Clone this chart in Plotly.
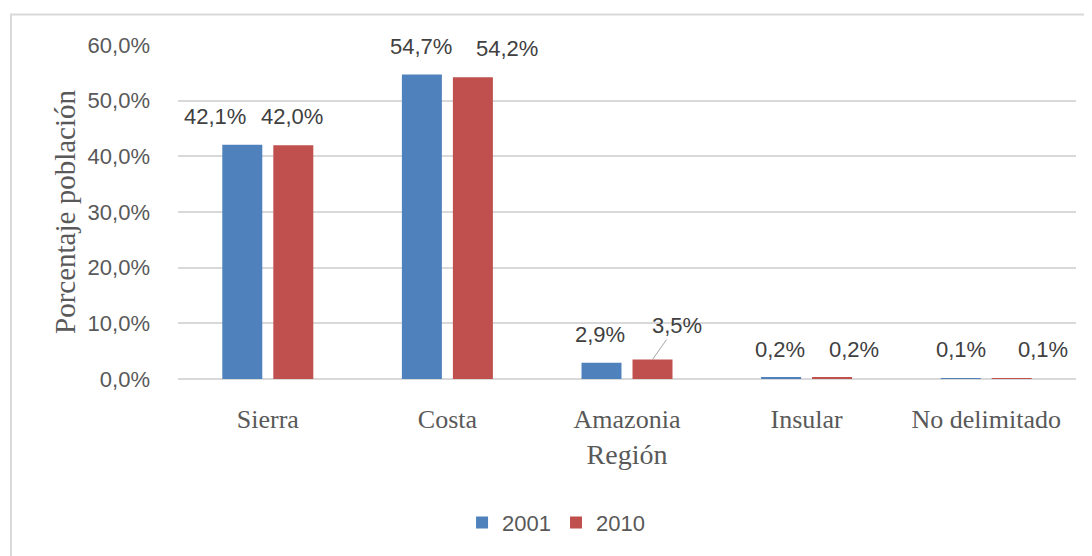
import plotly.graph_objects as go

# ---- data ----
categories = ["Sierra", "Costa", "Amazonia", "Insular", "No delimitado"]
series_names = ["2001", "2010"]
values_2001 = [42.1, 54.7, 2.9, 0.2, 0.1]
values_2010 = [42.0, 54.2, 3.5, 0.2, 0.1]
y_tickvals = [0, 10, 20, 30, 40, 50, 60]
y_ticktext = ["0,0%", "10,0%", "20,0%", "30,0%", "40,0%", "50,0%", "60,0%"]
y_title = "Porcentaje población"
x_title = "Región"

# ---- style ----
colors = ["#4f81bd", "#c0504d"]
grid_color = "#d9d9d9"
tick_color = "#595959"
label_color = "#404040"
sans = "Liberation Sans"
serif = "Liberation Serif"

# label nudges (pixels) relative to bar centre, per series
bar_offset_px = [-25.5, 25.5]
label_dx = [[-27, -1, -2, -1, 0], [-1, 34, 0, 22, 31]]
label_dy = 14


def fmt(v):
    return f"{v:.1f}".replace(".", ",") + "%"


fig = go.Figure()
for name, vals, col in zip(series_names, [values_2001, values_2010], colors):
    fig.add_trace(go.Bar(
        x=categories, y=vals, name=name,
        marker=dict(color=col, line=dict(width=0)),
    ))

annotations = []
for s, vals in enumerate([values_2001, values_2010]):
    for i, v in enumerate(vals):
        if s == 1 and categories[i] == "Amazonia":
            annotations.append(dict(
                x=categories[i], y=v, xref="x", yref="y",
                xshift=bar_offset_px[s], text=fmt(v),
                showarrow=True, arrowhead=0, arrowwidth=1, arrowcolor="#a6a6a6",
                ax=24, ay=-34, standoff=0,
                font=dict(family=sans, size=22, color=label_color),
            ))
            continue
        annotations.append(dict(
            x=categories[i], y=v, xref="x", yref="y",
            xshift=bar_offset_px[s] + label_dx[s][i], yshift=label_dy,
            yanchor="bottom", text=fmt(v), showarrow=False,
            font=dict(family=sans, size=22, color=label_color),
        ))

fig.update_layout(
    width=1084, height=548,
    margin=dict(l=170, r=16, t=37, b=177, autoexpand=False),
    paper_bgcolor="white", plot_bgcolor="white",
    separators=",.",
    barmode="group", bargap=0.432, bargroupgap=0.216,
    showlegend=True,
    legend=dict(orientation="h", x=0.421, xanchor="center", y=-0.43, yanchor="middle",
                font=dict(family=sans, size=22, color=tick_color), traceorder="normal"),
    annotations=annotations,
    shapes=[dict(type="rect", xref="paper", yref="paper",
                 x0=-0.186, x1=1.1, y0=-0.7, y1=1.091,
                 line=dict(color=grid_color, width=2), layer="below")],
    xaxis=dict(
        showgrid=False, showline=False, zeroline=False, ticks="",
        tickfont=dict(family=serif, size=26, color=tick_color),
        ticklabelstandoff=22, automargin=False,
        title=dict(text=x_title, font=dict(family=serif, size=28, color=tick_color), standoff=11),
    ),
    yaxis=dict(
        range=[0, 60], tickmode="array", tickvals=y_tickvals, ticktext=y_ticktext,
        showgrid=True, gridcolor=grid_color, gridwidth=1.5,
        zeroline=True, zerolinecolor=grid_color, zerolinewidth=1.5,
        showline=False, ticks="",
        tickfont=dict(family=sans, size=22, color=tick_color),
        ticklabelstandoff=27, automargin=False,
        title=dict(text=y_title, font=dict(family=serif, size=29, color=tick_color), standoff=3),
    ),
)

fig.write_html("out.html")
